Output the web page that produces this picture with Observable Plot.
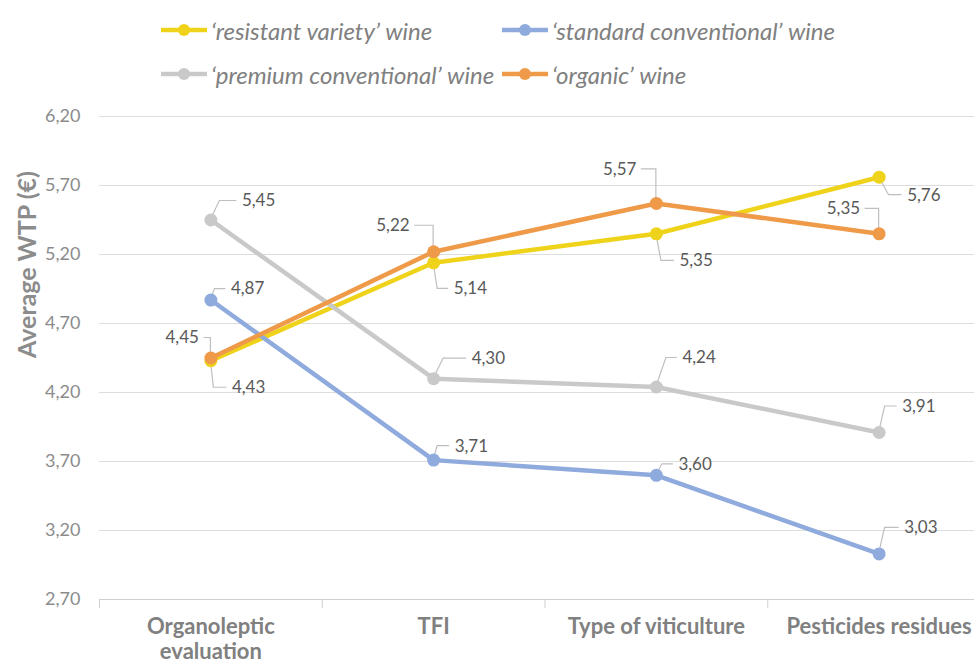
<!DOCTYPE html>
<html>
<head>
<meta charset="utf-8">
<script src="https://cdn.jsdelivr.net/npm/d3@7"></script>
<script src="https://cdn.jsdelivr.net/npm/@observablehq/plot@0.6"></script>
<style>
  html, body { margin: 0; padding: 0; background: #fff; overflow: hidden; }
  body { width: 974px; height: 659px; font-family: Lato, "Open Sans", sans-serif; }
  #legend { position: relative; height: 95px; width: 974px; }
  .item { position: absolute; display: flex; align-items: center; height: 28px; }
  .item span { font-style: italic; font-size: 24px; color: #808080; margin-left: 4px; white-space: nowrap; }
  #chart svg { display: block; overflow: hidden; }
</style>
</head>
<body>
<div id="legend"></div>
<div id="chart"></div>
<script>
// Attributes evaluated and average willingness to pay per wine type
const categories = ["Organoleptic\nevaluation", "TFI", "Type of viticulture", "Pesticides residues"];
const seriesNames = ["‘resistant variety’ wine", "‘standard conventional’ wine", "‘premium conventional’ wine", "‘organic’ wine"];
const resistantVariety = [4.43, 5.14, 5.35, 5.76];
const standardConventional = [4.87, 3.71, 3.60, 3.03];
const premiumConventional = [5.45, 4.30, 4.24, 3.91];
const organic = [4.45, 5.22, 5.57, 5.35];
const yTicks = [2.7, 3.2, 3.7, 4.2, 4.7, 5.2, 5.7, 6.2];

const seriesColors = ["#EFD31A", "#8FAADC", "#C9C9C9", "#EE9A49"];

// Callout placement for each value label: [dx, dy, elbow x] in pixels
const calloutOffsets = [
  [[21, 27, 3], [20, 26, 4], [23, 27, 5], [28, 18, 10]],
  [[20, -11, 4], [21, -14, 4], [22, -11, 6], [25, -26, 6]],
  [[31, -19, 9], [38, -20, 10], [26, -29, 10], [23, -26, 6]],
  [[-12, -20, 0], [-24, -26, 0], [-20, -34, 0], [-19, -25, 0]]
];

const seriesValues = [resistantVariety, standardConventional, premiumConventional, organic];
const rows = seriesValues.flatMap((vals, s) =>
  vals.map((v, i) => ({series: seriesNames[s], s, i, value: v})));
const fmt = (v) => v.toFixed(2).replace(".", ",");
const boundaries = d3.range(categories.length).map((i) => i - 0.5);

// Legend
const legend = d3.select("#legend");
const legendSpots = [[161, 16], [502, 16], [161, 60], [502, 60]];
seriesNames.forEach((name, s) => {
  const item = legend.append("div").attr("class", "item")
    .style("left", legendSpots[s][0] + "px").style("top", legendSpots[s][1] + "px");
  const sw = item.append("svg").attr("width", 46).attr("height", 14);
  sw.append("line").attr("x1", 0).attr("x2", 46).attr("y1", 7).attr("y2", 7)
    .attr("stroke", seriesColors[s]).attr("stroke-width", 4.5).attr("stroke-linecap", "round");
  sw.append("circle").attr("cx", 23).attr("cy", 7).attr("r", 6).attr("fill", seriesColors[s]);
  item.append("span").text(name);
});

const labelMarks = rows.map((d) => {
  const [dx, dy] = calloutOffsets[d.s][d.i];
  return Plot.text([d], {
    x: "i", y: "value", text: (r) => fmt(r.value),
    dx, dy, textAnchor: dx < 0 ? "end" : "start",
    fill: "#595959", fontSize: 17
  });
});

const seriesMarks = seriesNames.flatMap((name, s) => {
  const data = rows.filter((d) => d.s === s);
  return [
    Plot.line(data, {x: "i", y: "value", stroke: seriesColors[s], strokeWidth: 4.5}),
    Plot.dot(data, {x: "i", y: "value", fill: seriesColors[s], r: 6.5})
  ];
});

const chart = Plot.plot({
  width: 974,
  height: 564,
  marginTop: 21,
  marginBottom: 60,
  marginLeft: 99,
  marginRight: 0,
  style: {fontFamily: "Lato, 'Open Sans', sans-serif", background: "white"},
  x: {domain: [-0.5, categories.length - 0.5], range: [99, 990], axis: null},
  y: {domain: [2.7, 6.2], range: [504, 21], axis: null},
  marks: [
    Plot.ruleY(yTicks.slice(1), {stroke: "#DDDDDD", strokeWidth: 1}),
    Plot.ruleY([2.7], {stroke: "#D0D0D0", strokeWidth: 1}),
    Plot.ruleX(boundaries, {x: (d) => d, stroke: "#D0D0D0", insetTop: 483, insetBottom: -9}),
    Plot.text(yTicks, {y: (d) => d, text: fmt, frameAnchor: "left", dx: -19, textAnchor: "end",
      fill: "#8C8C8C", fontSize: 18}),
    Plot.text(["Average WTP (€)"], {frameAnchor: "left", dx: -72, rotate: -90, fill: "#8C8C8C",
      fontSize: 25, fontWeight: "bold"}),
    Plot.text(categories, {x: (d, i) => i, y: 2.7, text: (d) => d, dy: 17, lineAnchor: "top",
      lineHeight: 1.14, fill: "#808080", fontSize: 22, fontWeight: "bold"}),
    ...seriesMarks,
    ...labelMarks
  ]
});
document.getElementById("chart").appendChild(chart);

// Callout leader lines from each point to its value label
function scaleFn(name) {
  const s = chart.scale(name);
  if (s && typeof s.apply === "function") return (v) => s.apply(v);
  return d3.scaleLinear().domain(s.domain).range(s.range);
}
const sx = scaleFn("x"), sy = scaleFn("y");
const leaders = d3.create("svg:g").attr("fill", "none").attr("stroke", "#BFBFBF").attr("stroke-width", 1.2);
rows.forEach((d) => {
  const [dx, dy, ex] = calloutOffsets[d.s][d.i];
  const px = sx(d.i), py = sy(d.value);
  const hx = dx < 0 ? dx + 5 : dx - 5;
  const pts = [[px, py], [px + ex, py + dy], [px + hx, py + dy]];
  leaders.append("path").attr("d", d3.line()(pts));
});
const firstLine = chart.querySelector('[aria-label="line"]');
chart.insertBefore(leaders.node(), firstLine);
</script>
</body>
</html>
